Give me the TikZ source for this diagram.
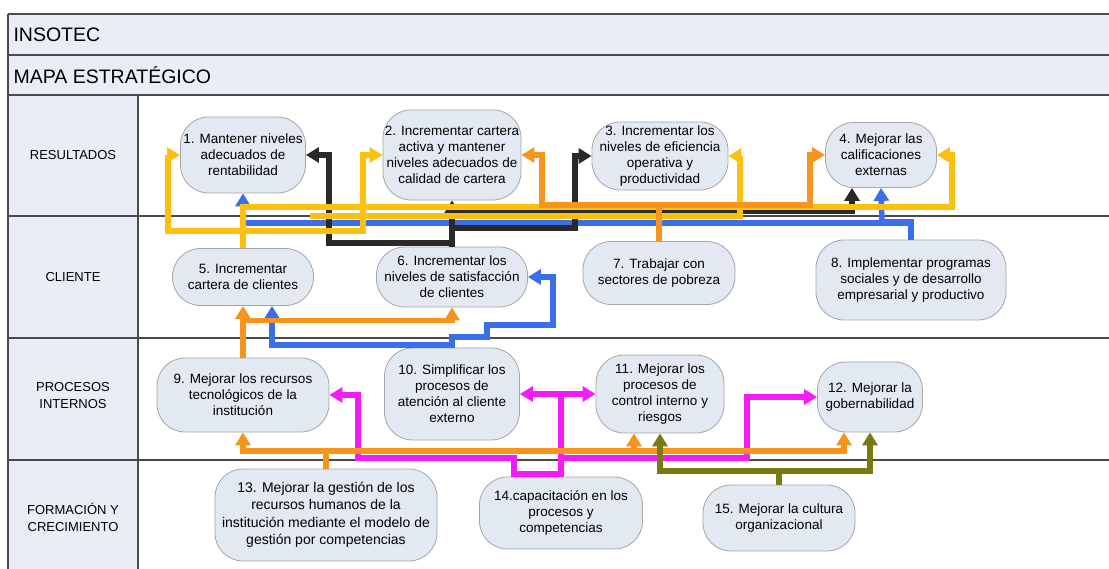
\documentclass[tikz,border=0pt]{standalone}
\usepackage{fontspec}
\setmainfont{Liberation Sans}
\usetikzlibrary{arrows.meta,calc}

\definecolor{hdrfill}{HTML}{E9EEF6}
\definecolor{boxfill}{HTML}{E3E9F2}
\definecolor{boxline}{HTML}{A6A6A6}
\definecolor{gridline}{HTML}{4A4A4A}
\definecolor{cyel}{HTML}{FCC00F}
\definecolor{cora}{HTML}{F7941E}
\definecolor{cblk}{HTML}{2A2A2A}
\definecolor{cblu}{HTML}{3A6EEA}
\definecolor{cmag}{HTML}{F41CF4}
\definecolor{coli}{HTML}{7A7A12}

\begin{document}
\begin{tikzpicture}[x=1pt,y=-1pt,
  obj/.style={draw=boxline, line width=0.8pt, fill=boxfill, rounded corners=28pt,
    align=center, inner sep=2pt, font=\fontsize{13.5}{16}\selectfont},
  rowlabel/.style={align=center, font=\fontsize{13}{17}\selectfont},
  headtext/.style={anchor=west, font=\fontsize{19.5}{22}\selectfont},
  grid/.style={draw=gridline, line width=1.4pt},
  link/.style={line width=5.5pt, -{Triangle[length=13pt,width=15pt]}}
]
\useasboundingbox (0,0) rectangle (1109,569);

% table background
\fill[white] (0,0) rectangle (1109,569);
\fill[hdrfill] (8,14) rectangle (1109,95);
\fill[hdrfill] (8,95) rectangle (138,569);

% table rules
\draw[grid] (8,14) -- (1109,14);
\draw[grid] (8,55) -- (1109,55);
\draw[grid] (8,95) -- (1109,95);
\draw[grid] (8,216) -- (1109,216);
\draw[grid] (8,338) -- (1109,338);
\draw[grid] (8,460) -- (1109,460);
\draw[grid] (8,14) -- (8,569);
\draw[grid] (138,95) -- (138,569);

% headings
\node[headtext] (h1) at (10,35) {INSOTEC};
\node[headtext] (h2) at (10,75) {MAPA ESTRATÉGICO};

% perspective labels
\node[rowlabel] (p1) at (73,155) {RESULTADOS};
\node[rowlabel] (p2) at (73,277) {CLIENTE};
\node[rowlabel] (p3) at (73,396) {PROCESOS\\INTERNOS};
\node[rowlabel] (p4) at (73,517) {FORMACIÓN Y\\CRECIMIENTO};

% objectives
\node[obj, minimum width=125pt, minimum height=76pt] (n1) at (243,155) {1. Mantener niveles\\adecuados de\\rentabilidad};
\node[obj, minimum width=138pt, minimum height=90pt] (n2) at (452,155) {2. Incrementar cartera\\activa y mantener\\niveles adecuados de\\calidad de cartera};
\node[obj, minimum width=136pt, minimum height=68pt] (n3) at (660,156) {3. Incrementar los\\niveles de eficiencia\\operativa y\\productividad};
\node[obj, minimum width=111pt, minimum height=65pt] (n4) at (881,155) {4. Mejorar las\\calificaciones\\externas};

\node[obj, minimum width=141pt, minimum height=57pt] (n5) at (243,277) {5. Incrementar\\cartera de clientes};
\node[obj, minimum width=151pt, minimum height=60pt] (n6) at (452,277) {6. Incrementar los\\niveles de satisfacción\\de clientes};
\node[obj, minimum width=152pt, minimum height=63pt] (n7) at (659,273) {7. Trabajar con\\sectores de pobreza};
\node[obj, minimum width=190pt, minimum height=80pt] (n8) at (911,280) {8. Implementar programas\\sociales y de desarrollo\\empresarial y productivo};

\node[obj, minimum width=172pt, minimum height=74pt] (n9) at (243,395) {9. Mejorar los recursos\\tecnológicos de la\\institución};
\node[obj, minimum width=135pt, minimum height=92pt] (n10) at (452,394) {10. Simplificar los\\procesos de\\atención al cliente\\externo};
\node[obj, minimum width=128pt, minimum height=78pt] (n11) at (660,394) {11. Mejorar los\\procesos de\\control interno y\\riesgos};
\node[obj, minimum width=105pt, minimum height=70pt] (n12) at (870,397) {12. Mejorar la\\gobernabilidad};

\node[obj, minimum width=222pt, minimum height=92pt, font=\fontsize{14}{17.5}\selectfont] (n13) at (326,515) {13. Mejorar la gestión de los\\recursos humanos de la\\institución mediante el modelo de\\gestión por competencias};
\node[obj, minimum width=163pt, minimum height=72pt] (n14) at (561,513) {14.capacitación en los\\procesos y\\competencias};
\node[obj, minimum width=152pt, minimum height=66pt] (n15) at (779,518) {15. Mejorar la cultura\\organizacional};

\coordinate (ystub) at (310,216);

% magenta: 14 -> 9, 10, 11, 12
\draw[link,cmag] (n14.north) |- (514,474) -- (514,458) -- (358,458) |- (n9.east);
\draw[link,cmag] (n14.north) |- (747,458) |- (n12.west);
\draw[link,cmag] (n14.north) |- (n10.east);
\draw[link,cmag] (n14.north) |- (n11.west);

% orange: 13 -> 9, 11, 12
\draw[link,cora] (n13.north) |- (243,451) -- (n9.south);
\draw[link,cora] (n13.north) |- (634,451) -- ($(n11.south)+(-26,0)$);
\draw[link,cora] (n13.north) |- (844,451) -- ($(n12.south)+(-26,0)$);

% olive: 15 -> 11, 12
\draw[link,coli] (n15.north) |- (660,471) -- (n11.south);
\draw[link,coli] (n15.north) |- (870,471) -- (n12.south);

% blue: 10 -> 5, 6
\draw[link,cblu] (n10.north) |- (272,345) -- ($(n5.south)+(29,0)$);
\draw[link,cblu] (n10.north) -- (452,337) -- (487,337) -- (487,325) -- (553,325) |- (n6.east);

% orange: 9 -> 5, 6
\draw[link,cora] (n9.north) -- (n5.south);
\draw[link,cora] (n9.north) |- ($(n6.south)+(0,13)$) -- (n6.south);

% blue: 8 -> 1, 4
\draw[link,cblu] (n8.north) |- (243,223) -- (n1.south);
\draw[link,cblu] (n8.north) |- (882,222) -- (n4.south);

% black: 6 -> 1, 2, 3, 4
\draw[link,cblk] (n6.north) |- (329,243) |- (n1.east);
\draw[link,cblk] (n6.north) -- (n2.south);
\draw[link,cblk] (n6.north) |- (575,228) |- (n3.west);
\draw[link,cblk] (n6.north) |- (852,211) -- ($(n4.south)+(-29,0)$);

% yellow: 5 -> 1, 2, 3, 4
\draw[link,cyel] (n5.north) |- (363,207) -- (363,231) -- (168,231) |- (n1.west);
\draw[link,cyel] (n5.north) |- (363,207) |- (n2.west);
\draw[link,cyel] (ystub) -- (740,216) |- (n3.east);
\draw[link,cyel] (n5.north) |- (952,207) |- (n4.east);

% orange: 7 -> 2, 4
\draw[link,cora] (n7.north) |- (542,205) |- (n2.east);
\draw[link,cora] (n7.north) |- (810,205) |- (n4.west);
\end{tikzpicture}
\end{document}
